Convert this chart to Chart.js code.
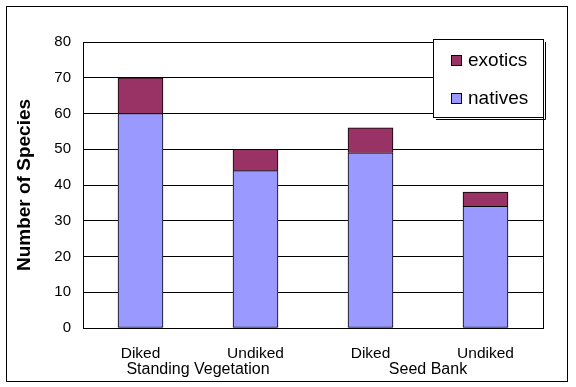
<!DOCTYPE html>
<html>
<head>
<meta charset="utf-8">
<script src="https://cdn.jsdelivr.net/npm/chart.js@4"></script>
<style>
  html, body { margin: 0; padding: 0; background: #fff; }
  #wrap { width: 576px; height: 387px; }
</style>
</head>
<body>
<div id="wrap"><canvas id="speciesChart" width="576" height="387"></canvas></div>
<script>
const categories = ["Diked", "Undiked", "Diked", "Undiked"];
const groups = ["Standing Vegetation", "Seed Bank"];
const natives = [60, 44, 49, 34];
const exotics = [10, 6, 7, 4];
const yTicks = [0, 10, 20, 30, 40, 50, 60, 70, 80];

const FONT = "'Liberation Sans', Arial, sans-serif";

// frame around the whole chart, plot area box and the legend box
const framePlugin = {
  id: "frame",
  afterDraw(chart) {
    const ctx = chart.ctx;
    const a = chart.chartArea;
    ctx.save();
    ctx.strokeStyle = "#000";
    ctx.lineWidth = 1;
    ctx.strokeRect(6.5, 6.5, 561, 375);
    ctx.strokeRect(a.left + 0.5, a.top + 0.5, a.right - a.left, a.bottom - a.top);

    // legend
    const lx = 433, ly = 39, lw = 110, lh = 78;
    ctx.fillStyle = "#fff";
    ctx.fillRect(lx, ly, lw, lh);
    ctx.strokeRect(lx + 0.5, ly + 0.5, lw, lh);
    ctx.beginPath();
    ctx.moveTo(lx + lw + 2.5, ly + 3);
    ctx.lineTo(lx + lw + 2.5, ly + lh + 2.5);
    ctx.lineTo(lx + 3, ly + lh + 2.5);
    ctx.stroke();

    const items = [chart.data.datasets[1], chart.data.datasets[0]];
    ctx.font = "19px " + FONT;
    ctx.textBaseline = "middle";
    items.forEach((ds, i) => {
      const y = ly + 21 + i * 38;
      ctx.fillStyle = ds.backgroundColor;
      ctx.fillRect(lx + 18, y - 5, 11, 11);
      ctx.strokeRect(lx + 18.5, y - 4.5, 10, 10);
      ctx.fillStyle = "#000";
      ctx.fillText(ds.label, lx + 35, y + 1);
    });
    ctx.restore();
  }
};

new Chart(document.getElementById("speciesChart"), {
  type: "bar",
  data: {
    labels: categories,
    datasets: [
      {
        label: "natives",
        data: natives,
        backgroundColor: "#9999FF",
        borderColor: "#000",
        borderWidth: 1,
        borderSkipped: false,
        barThickness: 45
      },
      {
        label: "exotics",
        data: exotics,
        backgroundColor: "#993366",
        borderColor: "#000",
        borderWidth: 1,
        borderSkipped: "bottom",
        barThickness: 45
      }
    ]
  },
  options: {
    responsive: false,
    animation: false,
    layout: { padding: { left: 0, top: 42, right: 33, bottom: 0 } },
    plugins: {
      legend: { display: false },
      tooltip: { enabled: false }
    },
    scales: {
      x: {
        stacked: true,
        grid: { display: false, drawTicks: false },
        border: { display: true, color: "#000" },
        ticks: { color: "#000", font: { family: FONT, size: 15.5 }, padding: 16, maxRotation: 0 },
        afterFit(scale) { scale.height = 31; }
      },
      x2: {
        type: "category",
        labels: groups,
        position: "bottom",
        offset: true,
        grid: { display: false, drawTicks: false },
        border: { display: false },
        ticks: { color: "#000", font: { family: FONT, size: 16 }, padding: 1, maxRotation: 0 },
        afterFit(scale) { scale.height = 28; }
      },
      y: {
        stacked: true,
        min: 0,
        max: 80,
        afterBuildTicks(scale) { scale.ticks = yTicks.map(v => ({ value: v })); },
        grid: { color: "#000", drawTicks: false },
        border: { display: true, color: "#000" },
        ticks: { color: "#000", font: { family: FONT, size: 15 }, padding: 12 },
        title: {
          display: true,
          text: "Number of Species",
          color: "#000",
          font: { family: FONT, size: 19, weight: "bold" },
          padding: { top: 13, bottom: 0 }
        },
        afterFit(scale) { scale.width = 83; }
      }
    }
  },
  plugins: [framePlugin]
});
</script>
</body>
</html>
